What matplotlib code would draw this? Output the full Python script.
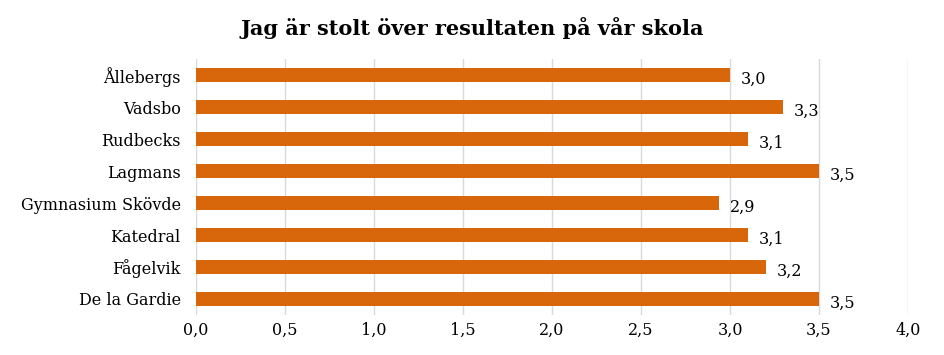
import matplotlib
matplotlib.use("Agg")
import matplotlib.pyplot as plt
from matplotlib.ticker import FuncFormatter

categories = ["Ållebergs", "Vadsbo", "Rudbecks", "Lagmans", "Gymnasium Skövde",
              "Katedral", "Fågelvik", "De la Gardie"]
values = [3.0, 3.3, 3.1, 3.5, 2.94, 3.1, 3.2, 3.5]
title = "Jag är stolt över resultaten på vår skola"

plt.rcParams['font.family'] = ['DejaVu Serif']

fig = plt.figure(figsize=(9.45, 3.55), dpi=100)
ax = fig.add_axes([0.2074, 0.1127, 0.7535, 0.721])

ypos = list(range(len(categories)))
ax.barh(ypos, values, height=0.42, color="#D8660A", zorder=3)
ax.set_ylim(len(categories) - 0.5, -0.5)
ax.set_xlim(0, 4.0)
ax.set_yticks(ypos)
ax.set_yticklabels(categories, fontsize=11.5)
ax.set_xticks([0, 0.5, 1.0, 1.5, 2.0, 2.5, 3.0, 3.5, 4.0])
ax.xaxis.set_major_formatter(FuncFormatter(lambda v, p: f"{v:.1f}".replace(".", ",")))
ax.tick_params(axis='x', labelsize=11.5, length=0, pad=5)
ax.tick_params(axis='y', length=0, pad=11)
ax.grid(axis='x', color="#D9D9D9", linewidth=1, zorder=0)
for s in ax.spines.values():
    s.set_visible(False)

for y, v in zip(ypos, values):
    ax.text(v + 0.06, y + 0.12, f"{v:.1f}".replace(".", ","), va='center', ha='left', fontsize=11.5)

fig.text(0.5, 0.92, title, ha='center', va='center', fontsize=15, fontweight='bold')

fig.savefig("out.png", dpi=100, facecolor="white")
